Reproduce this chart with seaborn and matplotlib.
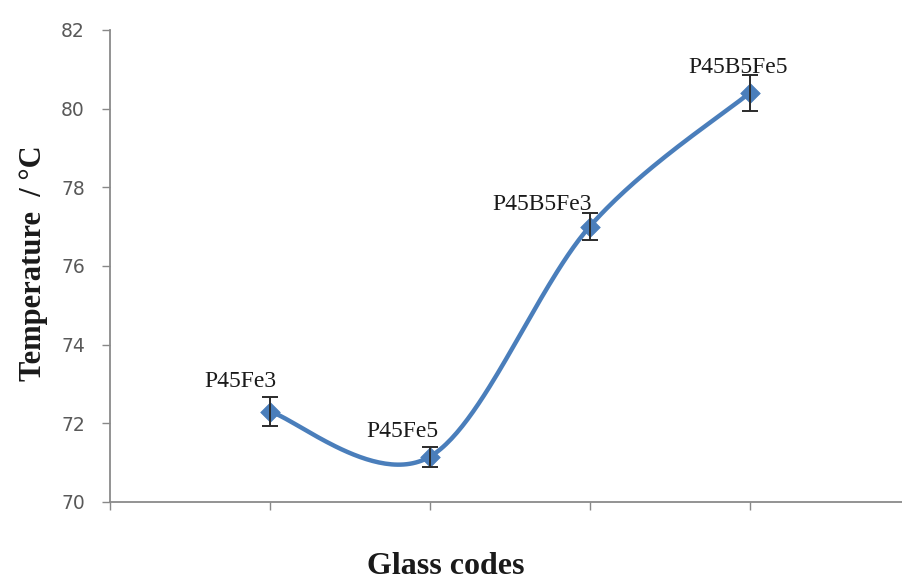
import numpy as np
import pandas as pd
import matplotlib
matplotlib.use("Agg")
import matplotlib.pyplot as plt
import seaborn as sns

# Glass transition temperatures per glass composition
glass_codes = ["P45Fe3", "P45Fe5", "P45B5Fe3", "P45B5Fe5"]
temperature = [72.3, 71.15, 77.0, 80.4]
temperature_err = [0.38, 0.25, 0.35, 0.45]
y_ticks = [70, 72, 74, 76, 78, 80, 82]

df = pd.DataFrame({"code": glass_codes, "temp": temperature, "err": temperature_err})
df["pos"] = np.arange(1, len(df) + 1)


def smooth_curve(x, y, n=60):
    """Piecewise cubic Bezier through the points (spreadsheet-style smoothing)."""
    pts = np.column_stack([x, y]).astype(float)
    out = []
    m = len(pts)
    t = np.linspace(0, 1, n)[:, None]
    for i in range(m - 1):
        p0 = pts[i - 1] if i > 0 else pts[i]
        p1, p2 = pts[i], pts[i + 1]
        p3 = pts[i + 2] if i + 2 < m else pts[i + 1]
        c1 = p1 + (p2 - p0) / 6.0
        c2 = p2 - (p3 - p1) / 6.0
        seg = ((1 - t) ** 3) * p1 + 3 * ((1 - t) ** 2) * t * c1 + 3 * (1 - t) * t ** 2 * c2 + t ** 3 * p2
        out.append(seg if i == 0 else seg[1:])
    seg = np.vstack(out)
    return seg[:, 0], seg[:, 1]


sns.set_theme(style="white")
plt.rcParams["font.family"] = ["DejaVu Sans"]

fig = plt.figure(figsize=(9.03, 5.82), dpi=100)
ax = fig.add_axes([0.1218, 0.1375, 0.8782, 0.811])

blue = "#4A7EBB"
sx, sy = smooth_curve(df["pos"], df["temp"])
sns.lineplot(x=sx, y=sy, ax=ax, color=blue, lw=3.2, sort=False, estimator=None)
sns.scatterplot(data=df, x="pos", y="temp", ax=ax, marker="D", s=100, color=blue,
                edgecolor=blue, linewidth=0.5, zorder=4)
ax.errorbar(df["pos"], df["temp"], yerr=df["err"], fmt="none", ecolor="#2b2b2b",
            elinewidth=1.4, capsize=6, capthick=1.4, zorder=5)

# label offsets in points (dx, dy to baseline)
label_offsets = [(-21.5, 18), (-19.5, 14), (-34, 12), (-8.5, 14.5)]
for (_, r), (dx, dy) in zip(df.iterrows(), label_offsets):
    ax.annotate(r["code"], (r["pos"], r["temp"]), xytext=(dx, dy),
                textcoords="offset points", ha="center", va="baseline",
                family="Liberation Serif", fontsize=17, color="#1a1a1a")

ax.set_xlim(0, 4.96)
ax.set_ylim(70, 82)
ax.set_xticks([0, 1, 2, 3, 4])
ax.set_xticklabels([])
ax.set_yticks(y_ticks)
ax.set_yticklabels([str(v) for v in y_ticks], color="#595959", fontsize=13.5)
ax.tick_params(axis="x", direction="out", length=6, width=1, color="#888888", bottom=True)
ax.tick_params(axis="y", direction="out", length=6, width=1, color="#888888", left=True, pad=12)

for side in ["top", "right"]:
    ax.spines[side].set_visible(False)
for side in ["left", "bottom"]:
    ax.spines[side].set_color("#8a8a8a")
    ax.spines[side].set_linewidth(1.3)

ax.set_xlabel("")
ax.set_ylabel("")
fig.text(0.037, 0.548, "Temperature  / °C", rotation=90, ha="center", va="center",
         family="Liberation Serif", fontweight="bold", fontsize=22, color="#1a1a1a")
fig.text(0.494, 0.026, "Glass codes", ha="center", va="center",
         family="Liberation Serif", fontweight="bold", fontsize=23, color="#1a1a1a")

fig.savefig("out.png", dpi=100, facecolor="white")
